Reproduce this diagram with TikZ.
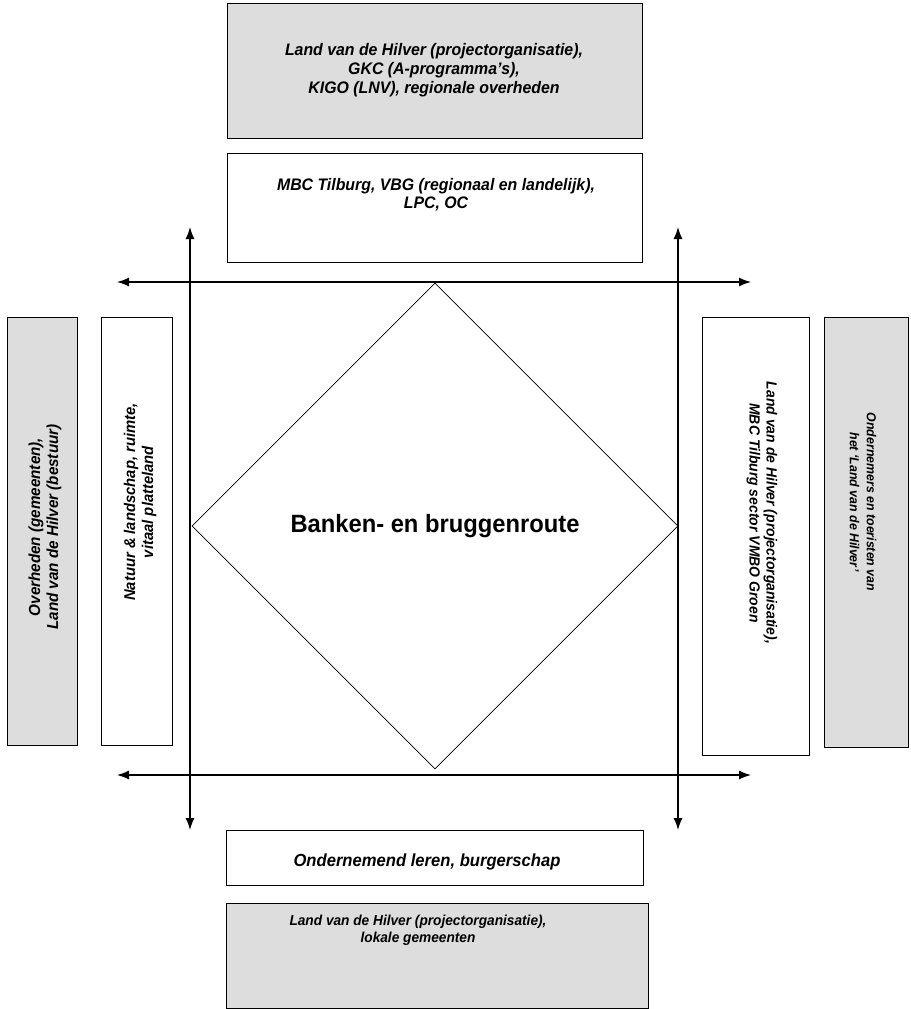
\documentclass[tikz,border=0pt]{standalone}
\usepackage{fontspec}
\setmainfont{Liberation Sans}[FakeStretch=0.95]
\usetikzlibrary{arrows.meta,shapes.geometric}
\definecolor{vakgrijs}{HTML}{DDDDDD}

\tikzset{
  vak/.style={draw, line width=0.8pt, inner sep=0pt},
  grijsvak/.style={vak, fill=vakgrijs},
  tekst/.style 2 args={align=center, inner sep=0pt, font=\bfseries\itshape\fontsize{#1}{#2}\selectfont},
  pijl/.style={line width=1.3pt, {Latex[length=12pt,width=9pt]}-{Latex[length=12pt,width=9pt]}},
}

\begin{document}
\begin{tikzpicture}[x=1pt, y=-1pt]
  \useasboundingbox (0,0) rectangle (910,1009);

  % boxes above
  \node[grijsvak, minimum width=415pt, minimum height=135pt] (boven2) at (434.5,70.5) {};
  \node[tekst={16.7}{19}] (boven2t) at (434,70) {Land van de Hilver (projectorganisatie),\\ GKC (A-programma's),\\ KIGO (LNV), regionale overheden};
  \node[vak, minimum width=415pt, minimum height=109pt] (boven1) at (434.5,207.5) {};
  \node[tekst={16.7}{18}] (boven1t) at (436,195) {MBC Tilburg, VBG (regionaal en landelijk),\\ LPC, OC};

  % boxes left
  \node[grijsvak, minimum width=70pt, minimum height=428pt] (links2) at (42,531) {};
  \node[tekst={16}{18}, rotate=90] (links2t) at (45,527) {Overheden (gemeenten),\\ Land van de Hilver (bestuur)};
  \node[vak, minimum width=71pt, minimum height=428pt] (links1) at (136.5,531) {};
  \node[tekst={15.6}{18}, rotate=90] (links1t) at (140,502) {Natuur \& landschap, ruimte,\\ vitaal platteland};

  % boxes right
  \node[vak, minimum width=107pt, minimum height=438pt] (rechts1) at (755.5,536) {};
  \node[tekst={14.7}{17}, rotate=-90] (rechts1t) at (762,513) {Land van de Hilver (projectorganisatie),\\ MBC Tilburg sector VMBO Groen};
  \node[grijsvak, minimum width=84pt, minimum height=430pt] (rechts2) at (866,532) {};
  \node[tekst={13}{17}, rotate=-90] (rechts2t) at (863,502) {Ondernemers en toeristen van\\ het `Land van de Hilver'};

  % boxes below
  \node[vak, minimum width=417pt, minimum height=55pt] (onder1) at (434.5,857.5) {};
  \node[tekst={17.5}{19}] (onder1t) at (427,862) {Ondernemend leren, burgerschap};
  \node[grijsvak, minimum width=422pt, minimum height=105pt] (onder2) at (437,955.5) {};
  \node[tekst={14.4}{17}] (onder2t) at (418,930) {Land van de Hilver (projectorganisatie),\\ lokale gemeenten};

  % centre
  \node[draw, diamond, aspect=1, line width=0.8pt, inner sep=0pt, minimum width=486pt, minimum height=486pt,
        font=\bfseries\fontsize{25}{28}\selectfont] (route) at (435,526) {Banken- en bruggenroute};

  % arrows
  \coordinate (hbl) at (117,282);
  \coordinate (hbr) at (751,282);
  \coordinate (hol) at (117,775);
  \coordinate (hor) at (751,775);
  \coordinate (vlb) at (190,227);
  \coordinate (vlo) at (190,830);
  \coordinate (vrb) at (678,227);
  \coordinate (vro) at (678,830);
  \draw[pijl] (hbl) -- (hbr);
  \draw[pijl] (hol) -- (hor);
  \draw[pijl] (vlo) -- (vlb);
  \draw[pijl] (vro) -- (vrb);
\end{tikzpicture}
\end{document}
